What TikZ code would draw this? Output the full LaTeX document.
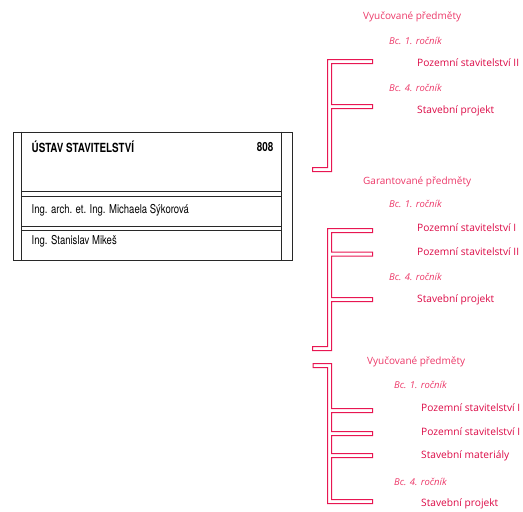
\documentclass[tikz,border=0pt]{standalone}
\usepackage{fontspec}
\setmainfont{Open Sans}
\newfontfamily\dinfont{TeX Gyre Heros}[FakeStretch=0.78]
\newfontfamily\redfont{Open Sans}
\definecolor{hdrpink}{RGB}{236,56,104}
\definecolor{crsred}{RGB}{220,10,70}
\definecolor{brkred}{RGB}{232,22,82}
\definecolor{boxline}{RGB}{40,40,40}
\begin{document}
\begin{tikzpicture}[x=1pt,y=-1pt,
  hdrtext/.style={anchor=west,inner sep=0pt,text=hdrpink,font=\redfont\fontsize{10}{12}\selectfont},
  yeartext/.style={anchor=west,inner sep=0pt,text=hdrpink,font=\redfont\itshape\fontsize{9.5}{11}\selectfont},
  crstext/.style={anchor=west,inner sep=0pt,text=crsred,font=\redfont\fontsize{10.2}{12}\selectfont},
  boxtext/.style={anchor=west,inner sep=0pt,text=black,font=\dinfont\fontsize{12.2}{14}\selectfont},
  boxrule/.style={draw=boxline,line width=0.8pt},
  bracketring/.style={fill=brkred,even odd rule}]
\useasboundingbox (0,0) rectangle (523,512);
% ---- box
\node[boxrule,rectangle,minimum width=279.8pt,minimum height=128.3pt,inner sep=0pt,anchor=north west] (box) at (12.5,131.7) {};
\coordinate (il) at (21.7,131.7);
\coordinate (ir) at (281.7,131.7);
\draw[boxrule] (il) -- (il |- box.south);
\draw[boxrule] (ir) -- (ir |- box.south);
\foreach \yy in {191.7,196,226,230}{
  \draw[boxrule] (21.7,\yy) -- (281.7,\yy);
}
\node[boxtext,font=\dinfont\bfseries\fontsize{12.6}{14}\selectfont] (title) at (31.5,146.5) {ÚSTAV STAVITELSTVÍ};
\node[boxtext,font=\dinfont\bfseries\fontsize{12.6}{14}\selectfont,anchor=east] (room) at (273.5,146.5) {808};
\node[boxtext] (p1) at (31.5,210.5) {Ing. arch. et. Ing. Michaela Sýkorová};
\node[boxtext] (p2) at (31.5,241.5) {Ing. Stanislav Mikeš};
% ---- block 1
\node[hdrtext] (h1) at (363,17) {Vyučované předměty};
\node[yeartext] (y11) at (389,41) {Bc. 1. ročník};
\node[crstext] (c11) at (417,63) {Pozemní stavitelství II};
\node[yeartext] (y14) at (389,88) {Bc. 4. ročník};
\node[crstext] (c12) at (417,111) {Stavební projekt};
\fill[bracketring]
  (312,167) -- (327,167) -- (327,59) -- (373,59) -- (373,64) -- (332,64) -- (332,104)
  -- (373,104) -- (373,109) -- (332,109) -- (332,172) -- (312,172) -- cycle
  (313,168) -- (328,168) -- (328,60) -- (372,60) -- (372,63) -- (331,63) -- (331,105)
  -- (372,105) -- (372,108) -- (331,108) -- (331,171) -- (313,171) -- cycle;
% ---- block 2
\node[hdrtext] (h2) at (363,182) {Garantované předměty};
\node[yeartext] (y21) at (389,204) {Bc. 1. ročník};
\node[crstext] (c21) at (417,228) {Pozemní stavitelství I};
\node[crstext] (c22) at (417,252) {Pozemní stavitelství II};
\node[yeartext] (y24) at (389,277) {Bc. 4. ročník};
\node[crstext] (c23) at (417,300) {Stavební projekt};
\fill[bracketring]
  (312,346) -- (327,346) -- (327,228) -- (373,228) -- (373,233) -- (332,233) -- (332,251.5)
  -- (373,251.5) -- (373,256.5) -- (332,256.5) -- (332,297) -- (373,297) -- (373,302)
  -- (332,302) -- (332,351) -- (312,351) -- cycle
  (313,347) -- (328,347) -- (328,229) -- (372,229) -- (372,232) -- (331,232) -- (331,252.5)
  -- (372,252.5) -- (372,255.5) -- (331,255.5) -- (331,298) -- (372,298) -- (372,301)
  -- (331,301) -- (331,350) -- (313,350) -- cycle;
% ---- block 3
\node[hdrtext] (h3) at (367,362) {Vyučované předměty};
\node[yeartext] (y31) at (394,385) {Bc. 1. ročník};
\node[crstext] (c31) at (421,408) {Pozemní stavitelství I};
\node[crstext] (c32) at (421,432) {Pozemní stavitelství I};
\node[crstext] (c33) at (421,456) {Stavební materiály};
\node[yeartext] (y34) at (394,482) {Bc. 4. ročník};
\node[crstext] (c34) at (421,504) {Stavební projekt};
\fill[bracketring]
  (312.5,363) -- (332,363) -- (332,408) -- (373,408) -- (373,413) -- (332,413) -- (332,431)
  -- (373,431) -- (373,436) -- (332,436) -- (332,453) -- (373,453) -- (373,458) -- (332,458)
  -- (332,499) -- (373,499) -- (373,504) -- (327,504) -- (327,368) -- (312.5,368) -- cycle
  (313.5,364) -- (331,364) -- (331,409) -- (372,409) -- (372,412) -- (331,412) -- (331,432)
  -- (372,432) -- (372,435) -- (331,435) -- (331,454) -- (372,454) -- (372,457) -- (331,457)
  -- (331,500) -- (372,500) -- (372,503) -- (328,503) -- (328,367) -- (313.5,367) -- cycle;
\end{tikzpicture}
\end{document}
